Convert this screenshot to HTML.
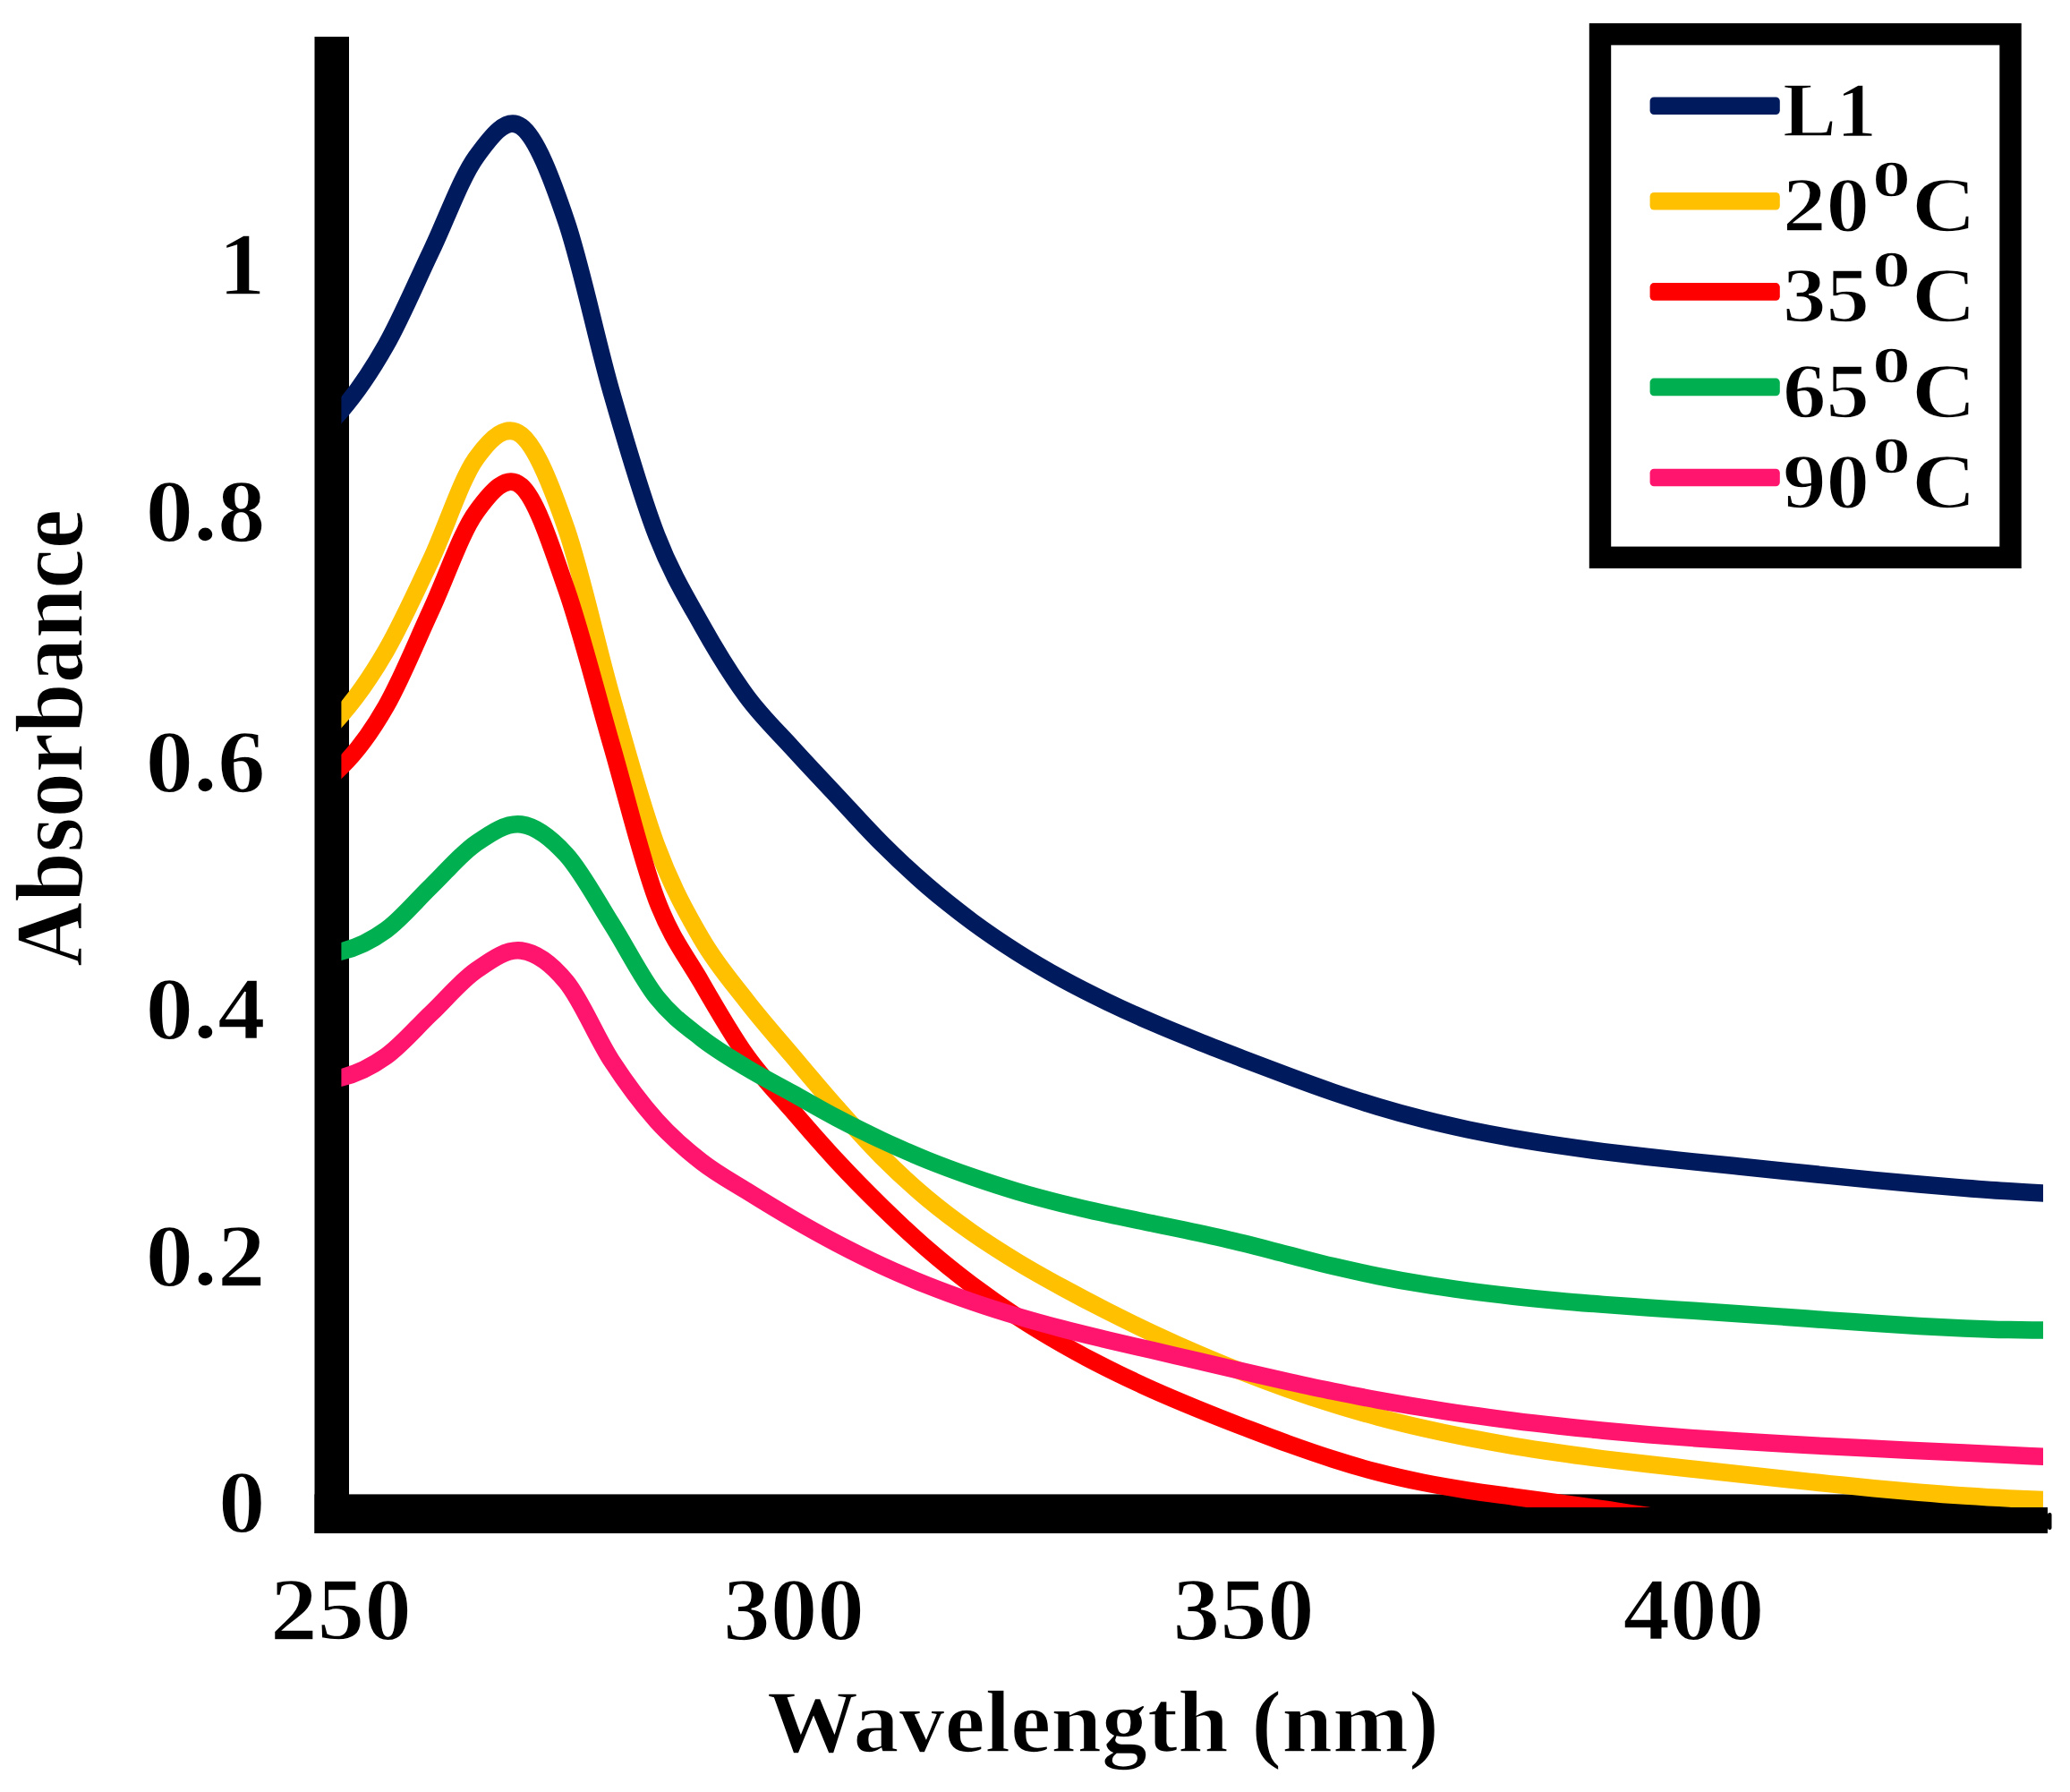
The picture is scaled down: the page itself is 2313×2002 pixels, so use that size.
<!DOCTYPE html><html><head><meta charset="utf-8"><title>Absorbance vs Wavelength</title>
<style>html,body{margin:0;padding:0;background:#fff}svg{display:block}text{font-family:"Liberation Serif",serif;font-weight:bold;fill:#000;stroke:#fff;stroke-width:1.5px}</style></head><body>
<svg width="2313" height="2002" viewBox="0 0 2313 2002">
<rect width="2313" height="2002" fill="#fff"/>
<rect x="351.5" y="41" width="38.5" height="1672" fill="#000"/>
<rect x="351.5" y="1669.4" width="1931.5" height="43.6" fill="#000"/>
<rect x="2283" y="1684" width="5" height="29" fill="#000"/>
<rect x="2288" y="1690" width="4.5" height="19" rx="2" fill="#000"/>
<defs><clipPath id="plot"><rect x="381.4" y="0" width="1901.6" height="1684.0"/></clipPath></defs>
<g clip-path="url(#plot)" fill="none" stroke-width="19.5" stroke-linejoin="round" stroke-linecap="butt">
<path stroke="#001a5e" d="M361.0 481.9 L381.0 459.0 C397.8 439.7 414.6 415.2 431.4 385.5 C448.2 355.8 465.0 315.7 481.8 280.6 C498.6 245.6 515.3 198.4 532.1 175.2 C548.9 152.0 565.7 129.4 582.5 141.5 C599.3 153.6 616.1 198.1 632.9 247.6 C649.7 297.1 666.5 380.0 683.3 438.4 C700.1 496.8 716.9 554.7 733.7 598.0 C750.5 641.3 767.2 668.0 784.0 698.0 C800.8 728.0 817.6 755.2 834.4 778.0 C851.2 800.8 868.0 816.5 884.8 835.0 C901.6 853.5 918.4 871.2 935.2 889.1 C952.0 907.1 968.8 926.0 985.6 942.7 C1002.4 959.5 1019.1 975.0 1035.9 989.5 C1052.7 1004.0 1069.5 1017.2 1086.3 1029.7 C1103.1 1042.1 1119.9 1053.4 1136.7 1064.1 C1153.5 1074.8 1170.3 1084.5 1187.1 1093.8 C1203.9 1103.0 1220.7 1111.4 1237.5 1119.5 C1254.3 1127.6 1271.0 1135.1 1287.8 1142.3 C1304.6 1149.6 1321.4 1156.4 1338.2 1163.1 C1355.0 1169.9 1371.8 1176.3 1388.6 1182.8 C1405.4 1189.2 1422.2 1195.7 1439.0 1201.9 C1455.8 1208.2 1472.6 1214.3 1489.4 1220.1 C1506.2 1225.8 1522.9 1231.4 1539.7 1236.4 C1556.5 1241.5 1573.3 1246.1 1590.1 1250.3 C1606.9 1254.6 1623.7 1258.4 1640.5 1262.0 C1657.3 1265.5 1674.1 1268.7 1690.9 1271.7 C1707.7 1274.6 1724.5 1277.3 1741.3 1279.7 C1758.1 1282.2 1774.8 1284.5 1791.6 1286.6 C1808.4 1288.7 1825.2 1290.6 1842.0 1292.5 C1858.8 1294.4 1875.6 1296.1 1892.4 1297.9 C1909.2 1299.6 1926.0 1301.3 1942.8 1303.0 C1959.6 1304.8 1976.4 1306.5 1993.2 1308.2 C2010.0 1309.9 2026.7 1311.7 2043.5 1313.4 C2060.3 1315.1 2077.1 1316.8 2093.9 1318.4 C2110.7 1320.0 2127.5 1321.6 2144.3 1323.0 C2161.1 1324.5 2177.9 1325.9 2194.7 1327.2 C2211.5 1328.5 2228.3 1329.8 2245.1 1330.8 C2261.9 1331.9 2278.6 1332.9 2295.4 1333.7"/>
<path stroke="#ffc000" d="M361.0 821.6 L381.0 799.0 C397.8 780.0 414.6 756.0 431.4 727.0 C448.2 698.0 465.0 660.8 481.8 625.0 C498.6 589.2 515.3 535.2 532.1 512.0 C548.9 488.8 565.7 472.8 582.5 486.0 C599.3 499.2 616.1 542.3 632.9 591.0 C649.7 639.7 666.5 719.0 683.3 778.0 C700.1 837.0 716.9 899.8 733.7 945.0 C750.5 990.2 767.2 1020.1 784.0 1049.0 C800.8 1077.9 817.6 1096.8 834.4 1118.4 C851.2 1140.1 868.0 1158.9 884.8 1178.8 C901.6 1198.7 918.4 1218.8 935.2 1237.8 C952.0 1256.7 968.8 1275.7 985.6 1292.5 C1002.4 1309.3 1019.1 1324.6 1035.9 1338.7 C1052.7 1352.8 1069.5 1365.2 1086.3 1377.1 C1103.1 1388.9 1119.9 1399.4 1136.7 1409.7 C1153.5 1419.9 1170.3 1429.2 1187.1 1438.4 C1203.9 1447.6 1220.7 1456.4 1237.5 1464.9 C1254.3 1473.4 1271.0 1481.6 1287.8 1489.5 C1304.6 1497.4 1321.4 1505.0 1338.2 1512.2 C1355.0 1519.4 1371.8 1526.4 1388.6 1532.9 C1405.4 1539.5 1422.2 1545.8 1439.0 1551.7 C1455.8 1557.6 1472.6 1563.2 1489.4 1568.4 C1506.2 1573.7 1522.9 1578.5 1539.7 1583.1 C1556.5 1587.6 1573.3 1591.7 1590.1 1595.6 C1606.9 1599.5 1623.7 1603.0 1640.5 1606.2 C1657.3 1609.5 1674.1 1612.5 1690.9 1615.3 C1707.7 1618.1 1724.5 1620.6 1741.3 1623.0 C1758.1 1625.5 1774.8 1627.7 1791.6 1629.8 C1808.4 1631.9 1825.2 1633.9 1842.0 1635.8 C1858.8 1637.7 1875.6 1639.5 1892.4 1641.3 C1909.2 1643.2 1926.0 1644.9 1942.8 1646.8 C1959.6 1648.6 1976.4 1650.4 1993.2 1652.2 C2010.0 1654.0 2026.7 1655.9 2043.5 1657.6 C2060.3 1659.3 2077.1 1661.1 2093.9 1662.7 C2110.7 1664.3 2127.5 1665.9 2144.3 1667.3 C2161.1 1668.7 2177.9 1670.0 2194.7 1671.1 C2211.5 1672.2 2228.3 1673.2 2245.1 1674.0 C2261.9 1674.8 2278.6 1675.4 2295.4 1675.8"/>
<path stroke="#ff0000" d="M361.0 876.1 L381.0 857.0 C397.8 840.9 414.6 818.3 431.4 789.0 C448.2 759.7 465.0 717.6 481.8 681.4 C498.6 645.2 515.3 595.1 532.1 572.0 C548.9 548.9 565.7 528.6 582.5 543.0 C599.3 557.4 616.1 610.2 632.9 658.4 C649.7 706.6 666.5 774.2 683.3 832.0 C700.1 889.8 716.9 960.7 733.7 1005.0 C750.5 1049.3 767.2 1068.8 784.0 1098.0 C800.8 1127.2 817.6 1156.3 834.4 1180.0 C851.2 1203.7 868.0 1220.5 884.8 1240.0 C901.6 1259.5 918.4 1278.9 935.2 1297.0 C952.0 1315.1 968.8 1332.1 985.6 1348.5 C1002.4 1364.8 1019.1 1380.6 1035.9 1395.2 C1052.7 1409.8 1069.5 1423.2 1086.3 1435.9 C1103.1 1448.5 1119.9 1460.2 1136.7 1471.2 C1153.5 1482.2 1170.3 1492.3 1187.1 1501.9 C1203.9 1511.5 1220.7 1520.4 1237.5 1528.8 C1254.3 1537.2 1271.0 1545.0 1287.8 1552.6 C1304.6 1560.1 1321.4 1567.1 1338.2 1574.0 C1355.0 1580.9 1371.8 1587.5 1388.6 1594.0 C1405.4 1600.4 1422.2 1606.9 1439.0 1612.9 C1455.8 1618.9 1472.6 1624.8 1489.4 1630.1 C1506.2 1635.5 1522.9 1640.4 1539.7 1644.8 C1556.5 1649.2 1573.3 1652.9 1590.1 1656.3 C1606.9 1659.6 1623.7 1662.4 1640.5 1665.1 C1657.3 1667.7 1674.1 1669.8 1690.9 1672.1 C1707.7 1674.4 1724.5 1676.7 1741.3 1679.0 C1758.1 1681.3 1774.8 1683.6 1791.6 1686.0 C1808.4 1688.4 1825.2 1691.3 1842.0 1693.5 C1858.8 1695.7 1875.6 1697.4 1892.4 1699.0 C1909.2 1700.6 1926.0 1701.8 1942.8 1703.0 C1959.6 1704.2 1976.4 1705.2 1993.2 1706.0 C2010.0 1706.8 2026.7 1707.5 2043.5 1708.0 C2060.3 1708.5 2077.1 1709.5 2093.9 1709.0 C2110.7 1708.5 2127.5 1705.7 2144.3 1705.2 C2161.1 1704.7 2177.9 1705.7 2194.7 1706.0 C2211.5 1706.3 2228.3 1706.5 2245.1 1706.9 C2261.9 1707.2 2278.6 1707.7 2295.4 1708.2"/>
<path stroke="#00b050" d="M361.0 1067.6 L381.0 1063.0 C397.8 1059.2 414.6 1051.2 431.4 1039.0 C448.2 1026.8 465.0 1006.2 481.8 990.0 C498.6 973.8 515.3 953.5 532.1 942.0 C548.9 930.5 565.7 918.8 582.5 921.0 C599.3 923.2 616.1 936.5 632.9 955.0 C649.7 973.5 666.5 1005.5 683.3 1032.0 C700.1 1058.5 716.9 1092.7 733.7 1114.0 C750.5 1135.3 767.2 1146.8 784.0 1160.0 C800.8 1173.2 817.6 1182.8 834.4 1193.0 C851.2 1203.2 868.0 1211.7 884.8 1221.0 C901.6 1230.3 918.4 1240.2 935.2 1249.0 C952.0 1257.8 968.8 1266.2 985.6 1274.0 C1002.4 1281.8 1019.1 1289.2 1035.9 1296.0 C1052.7 1302.8 1069.5 1308.9 1086.3 1314.8 C1103.1 1320.6 1119.9 1326.1 1136.7 1331.1 C1153.5 1336.1 1170.3 1340.5 1187.1 1344.7 C1203.9 1348.9 1220.7 1352.6 1237.5 1356.3 C1254.3 1360.0 1271.0 1363.3 1287.8 1366.8 C1304.6 1370.3 1321.4 1373.6 1338.2 1377.3 C1355.0 1381.0 1371.8 1384.7 1388.6 1388.8 C1405.4 1392.8 1422.2 1397.4 1439.0 1401.7 C1455.8 1406.0 1472.6 1410.6 1489.4 1414.6 C1506.2 1418.5 1522.9 1422.2 1539.7 1425.6 C1556.5 1429.0 1573.3 1432.0 1590.1 1434.7 C1606.9 1437.5 1623.7 1439.9 1640.5 1442.2 C1657.3 1444.4 1674.1 1446.4 1690.9 1448.3 C1707.7 1450.1 1724.5 1451.7 1741.3 1453.2 C1758.1 1454.8 1774.8 1456.1 1791.6 1457.4 C1808.4 1458.7 1825.2 1459.8 1842.0 1461.0 C1858.8 1462.2 1875.6 1463.2 1892.4 1464.3 C1909.2 1465.5 1926.0 1466.5 1942.8 1467.7 C1959.6 1468.8 1976.4 1470.0 1993.2 1471.2 C2010.0 1472.4 2026.7 1473.7 2043.5 1474.9 C2060.3 1476.0 2077.1 1477.2 2093.9 1478.3 C2110.7 1479.4 2127.5 1480.5 2144.3 1481.4 C2161.1 1482.3 2177.9 1483.2 2194.7 1483.9 C2211.5 1484.6 2228.3 1485.2 2245.1 1485.6 C2261.9 1485.9 2278.6 1486.1 2295.4 1486.2"/>
<path stroke="#ff146e" d="M361.0 1208.8 L381.0 1204.0 C397.8 1200.0 414.6 1192.0 431.4 1180.0 C448.2 1168.0 465.0 1148.0 481.8 1132.0 C498.6 1116.0 515.3 1095.7 532.1 1084.0 C548.9 1072.3 565.7 1059.8 582.5 1062.0 C599.3 1064.2 616.1 1076.5 632.9 1097.0 C649.7 1117.5 666.5 1159.2 683.3 1185.0 C700.1 1210.8 716.9 1233.2 733.7 1252.0 C750.5 1270.8 767.2 1284.9 784.0 1298.0 C800.8 1311.1 817.6 1320.1 834.4 1330.6 C851.2 1341.1 868.0 1351.4 884.8 1361.1 C901.6 1370.9 918.4 1380.3 935.2 1389.1 C952.0 1397.9 968.8 1406.3 985.6 1414.1 C1002.4 1421.9 1019.1 1429.0 1035.9 1435.8 C1052.7 1442.5 1069.5 1448.6 1086.3 1454.4 C1103.1 1460.2 1119.9 1465.5 1136.7 1470.5 C1153.5 1475.5 1170.3 1480.1 1187.1 1484.5 C1203.9 1488.9 1220.7 1492.9 1237.5 1497.0 C1254.3 1501.0 1271.0 1504.7 1287.8 1508.6 C1304.6 1512.5 1321.4 1516.4 1338.2 1520.3 C1355.0 1524.2 1371.8 1528.1 1388.6 1532.0 C1405.4 1535.8 1422.2 1539.7 1439.0 1543.5 C1455.8 1547.2 1472.6 1550.9 1489.4 1554.3 C1506.2 1557.7 1522.9 1561.0 1539.7 1564.1 C1556.5 1567.1 1573.3 1570.0 1590.1 1572.7 C1606.9 1575.5 1623.7 1578.0 1640.5 1580.4 C1657.3 1582.8 1674.1 1585.0 1690.9 1587.1 C1707.7 1589.3 1724.5 1591.2 1741.3 1593.0 C1758.1 1594.9 1774.8 1596.6 1791.6 1598.2 C1808.4 1599.8 1825.2 1601.3 1842.0 1602.7 C1858.8 1604.1 1875.6 1605.4 1892.4 1606.6 C1909.2 1607.8 1926.0 1609.0 1942.8 1610.1 C1959.6 1611.1 1976.4 1612.1 1993.2 1613.1 C2010.0 1614.1 2026.7 1615.0 2043.5 1615.8 C2060.3 1616.7 2077.1 1617.5 2093.9 1618.3 C2110.7 1619.2 2127.5 1619.9 2144.3 1620.7 C2161.1 1621.5 2177.9 1622.3 2194.7 1623.0 C2211.5 1623.8 2228.3 1624.6 2245.1 1625.4 C2261.9 1626.2 2278.6 1627.1 2295.4 1627.9"/>
</g>
<rect x="1788" y="38.2" width="458.5" height="584.6" fill="#fff" stroke="#000" stroke-width="24.4"/>
<rect x="1843.6" y="108.50" width="145.2" height="19.6" rx="4.5" fill="#001a5e"/>
<rect x="1843.6" y="215.00" width="145.2" height="19.6" rx="4.5" fill="#ffc000"/>
<rect x="1843.6" y="316.10" width="145.2" height="19.6" rx="4.5" fill="#ff0000"/>
<rect x="1843.6" y="422.60" width="145.2" height="19.6" rx="4.5" fill="#00b050"/>
<rect x="1843.6" y="523.70" width="145.2" height="19.6" rx="4.5" fill="#ff146e"/>
<g font-size="86">
<text x="1992" y="151.5" textLength="105" lengthAdjust="spacingAndGlyphs">L1</text>
<text y="258.0"><tspan x="1992" textLength="97" lengthAdjust="spacingAndGlyphs">20</tspan><tspan x="2092" dy="-39" font-size="80" textLength="43" lengthAdjust="spacingAndGlyphs">o</tspan><tspan x="2136" dy="39" textLength="72" lengthAdjust="spacingAndGlyphs">C</tspan></text>
<text y="359.1"><tspan x="1992" textLength="97" lengthAdjust="spacingAndGlyphs">35</tspan><tspan x="2092" dy="-39" font-size="80" textLength="43" lengthAdjust="spacingAndGlyphs">o</tspan><tspan x="2136" dy="39" textLength="72" lengthAdjust="spacingAndGlyphs">C</tspan></text>
<text y="465.6"><tspan x="1992" textLength="97" lengthAdjust="spacingAndGlyphs">65</tspan><tspan x="2092" dy="-39" font-size="80" textLength="43" lengthAdjust="spacingAndGlyphs">o</tspan><tspan x="2136" dy="39" textLength="72" lengthAdjust="spacingAndGlyphs">C</tspan></text>
<text y="566.7"><tspan x="1992" textLength="97" lengthAdjust="spacingAndGlyphs">90</tspan><tspan x="2092" dy="-39" font-size="80" textLength="43" lengthAdjust="spacingAndGlyphs">o</tspan><tspan x="2136" dy="39" textLength="72" lengthAdjust="spacingAndGlyphs">C</tspan></text>
</g>
<g font-size="100" text-anchor="end">
<text x="296.5" y="329.0" textLength="52.5" lengthAdjust="spacingAndGlyphs">1</text>
<text x="296.5" y="604.0" textLength="134.0" lengthAdjust="spacingAndGlyphs">0.8</text>
<text x="296.5" y="884.0" textLength="134.0" lengthAdjust="spacingAndGlyphs">0.6</text>
<text x="296.5" y="1160.0" textLength="134.0" lengthAdjust="spacingAndGlyphs">0.4</text>
<text x="296.5" y="1435.5" textLength="134.0" lengthAdjust="spacingAndGlyphs">0.2</text>
<text x="296.5" y="1711.0" textLength="52.5" lengthAdjust="spacingAndGlyphs">0</text>
</g>
<g font-size="100" text-anchor="middle">
<text x="380.9" y="1831" textLength="158" lengthAdjust="spacingAndGlyphs">250</text>
<text x="887.0" y="1831" textLength="158" lengthAdjust="spacingAndGlyphs">300</text>
<text x="1389.6" y="1831" textLength="158" lengthAdjust="spacingAndGlyphs">350</text>
<text x="1892.4" y="1831" textLength="158" lengthAdjust="spacingAndGlyphs">400</text>
</g>
<text x="857" y="1957" font-size="100" textLength="751" lengthAdjust="spacingAndGlyphs">Wavelength (nm)</text>
<text transform="translate(92,1080) rotate(-90) scale(1,1.08)" font-size="100">Absorbance</text>
</svg></body></html>
